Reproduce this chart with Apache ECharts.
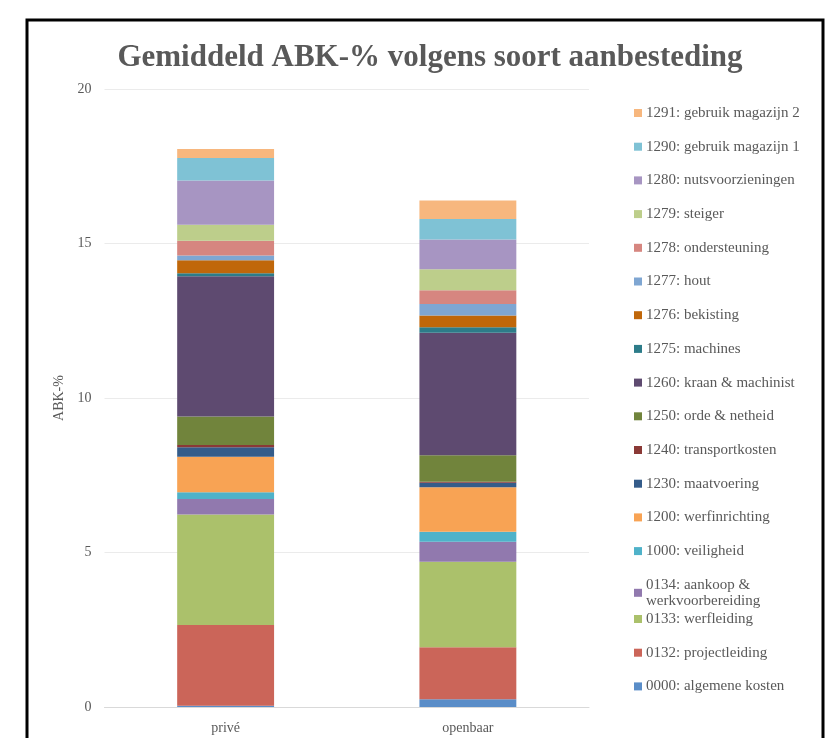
<!DOCTYPE html>
<html>
<head>
<meta charset="utf-8">
<script src="https://cdn.jsdelivr.net/npm/echarts@6/dist/echarts.min.js"></script>
<style>html,body{margin:0;padding:0;background:#fff}#c{width:832px;height:738px}</style>
</head>
<body>
<div id="c"></div>
<script>
const categories = ['privé', 'openbaar'];
const seriesNames = [
  '0000: algemene kosten', '0132: projectleiding', '0133: werfleiding',
  '0134: aankoop & werkvoorbereiding', '1000: veiligheid', '1200: werfinrichting',
  '1230: maatvoering', '1240: transportkosten', '1250: orde & netheid',
  '1260: kraan & machinist', '1275: machines', '1276: bekisting', '1277: hout',
  '1278: ondersteuning', '1279: steiger', '1280: nutsvoorzieningen',
  '1290: gebruik magazijn 1', '1291: gebruik magazijn 2'
];
const priveValues    = [0.04, 2.61, 3.58, 0.50, 0.22, 1.15, 0.31, 0.07, 0.92, 4.54, 0.10, 0.42, 0.15, 0.48, 0.52, 1.43, 0.73, 0.29];
const openbaarValues = [0.25, 1.68, 2.77, 0.65, 0.32, 1.44, 0.15, 0.03, 0.86, 3.96, 0.18, 0.38, 0.37, 0.45, 0.68, 0.96, 0.66, 0.60];
const colors = ['#5A8DC8', '#CB6559', '#ABC16B', '#9179AE', '#4FB2C9', '#F8A354',
  '#345C8A', '#8A3936', '#71843C', '#5E4A70', '#2D7C89', '#C0670A', '#7FA6D2',
  '#D68680', '#BDCE8B', '#A795C2', '#7FC2D5', '#F7B77E'];
const yTicks = [0, 5, 10, 15, 20];

const serif = '"Liberation Serif", "DejaVu Serif", serif';
const grey = '#595959';

const series = seriesNames.map((n, i) => ({
  name: n,
  type: 'bar',
  stack: 'total',
  barWidth: '40%',
  itemStyle: { color: colors[i] },
  data: [priveValues[i], openbaarValues[i]]
}));

const legendTop = seriesNames.slice(3).reverse();   // 1291 ... 0134
const legendBottom = seriesNames.slice(0, 3).reverse(); // 0133, 0132, 0000

const legendCommon = {
  orient: 'vertical',
  left: 634,
  padding: 0,
  itemWidth: 8,
  itemHeight: 8,
  itemGap: 17.7,
  icon: 'rect',
  textStyle: { fontFamily: serif, fontSize: 15, color: grey, padding: [0, 0, 0, -1], lineHeight: 16 },
  formatter: function (n) { return n === '0134: aankoop & werkvoorbereiding' ? '0134: aankoop &\nwerkvoorbereiding' : n; }
};

const chart = echarts.init(document.getElementById('c'));
chart.setOption({
  animation: false,
  title: {
    text: 'Gemiddeld ABK-% volgens soort aanbesteding',
    left: 425, top: 37, textAlign: 'center',
    textStyle: { fontFamily: serif, fontWeight: 'bold', fontSize: 31, color: grey }
  },
  legend: [
    Object.assign({}, legendCommon, { top: 105, data: legendTop }),
    Object.assign({}, legendCommon, { top: 611, data: legendBottom })
  ],
  grid: { left: 104.5, right: 243, top: 89, bottom: 31, containLabel: false },
  xAxis: {
    type: 'category',
    data: categories,
    axisLine: { lineStyle: { color: '#d9d9d9' } },
    axisTick: { show: false },
    axisLabel: { fontFamily: serif, fontSize: 14, color: grey, margin: 14 }
  },
  yAxis: {
    type: 'value',
    min: 0, max: 20, interval: 5,
    name: 'ABK-%',
    nameLocation: 'middle',
    nameGap: 31,
    nameTextStyle: { fontFamily: serif, fontSize: 14, color: grey },
    axisLabel: { fontFamily: serif, fontSize: 14, color: grey, margin: 13,
      formatter: v => yTicks.includes(v) ? String(v) : '' },
    splitLine: { lineStyle: { color: '#ebebeb' } },
    axisLine: { show: false },
    axisTick: { show: false }
  },
  graphic: [{
    type: 'rect',
    shape: { x: 27, y: 20, width: 796, height: 740 },
    style: { fill: 'none', stroke: '#000', lineWidth: 3 },
    silent: true
  }],
  series: series
});
</script>
</body>
</html>
